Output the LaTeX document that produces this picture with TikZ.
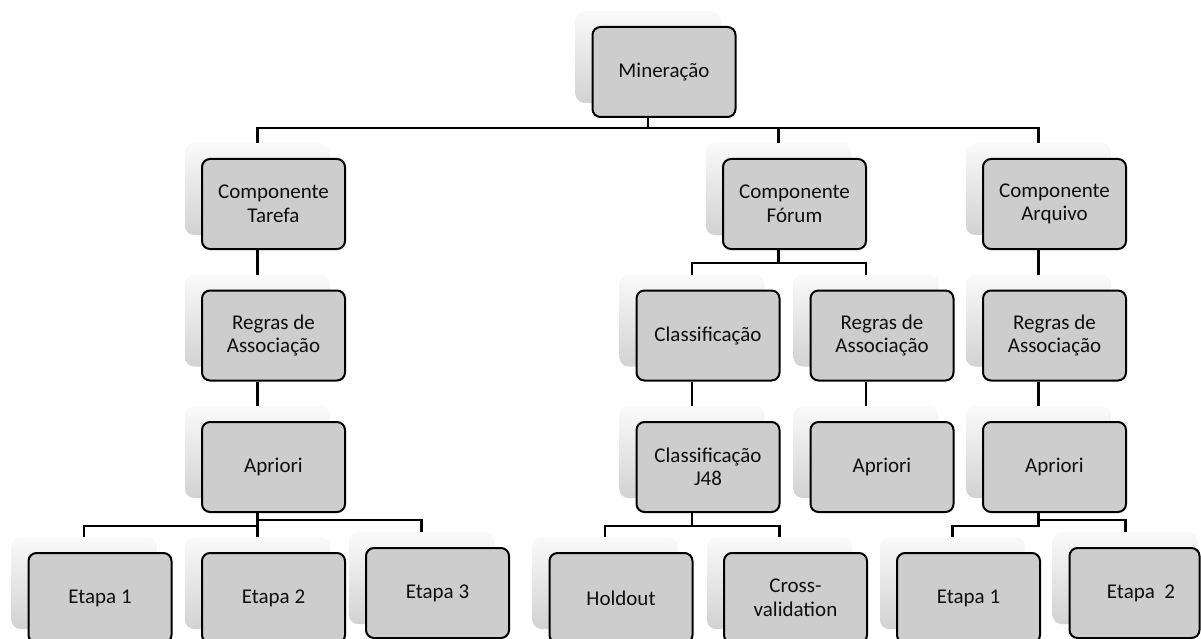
\documentclass[tikz,border=0pt]{standalone}
\usepackage{fontspec}
\setmainfont{Carlito}
\usetikzlibrary{backgrounds}
\definecolor{boxgray}{RGB}{205,205,205}
\definecolor{shtop}{RGB}{250,250,250}
\definecolor{shbot}{RGB}{210,210,210}
\definecolor{txt}{RGB}{15,15,15}
\begin{document}
\begin{tikzpicture}[x=1pt,y=-1pt,
  box/.style={draw=black, line width=2pt, rounded corners=8pt, fill=boxgray,
    minimum width=143pt, minimum height=90pt, align=center, inner sep=0pt,
    text=txt, font=\fontsize{21}{23.5}\selectfont},
  conn/.style={line width=2.2pt, black},
  shadowbox/.style={rounded corners=9pt, top color=shtop, bottom color=shbot, draw=none}]
\useasboundingbox (0,0) rectangle (1201,639);

% level 1
\node[box] (min) at (664,72) {Mineração};
% level 2
\node[box] (tar) at (273.5,204) {Componente\\Tarefa};
\node[box] (for) at (794.5,204) {Componente\\Fórum};
\node[box] (arq) at (1054.5,204) {Componente\\Arquivo};
% level 3
\node[box] (tregras) at (273.5,335.5) {Regras de\\Associação};
\node[box] (fcla) at (708,335.5) {Classificação};
\node[box] (fregras) at (882,335.5) {Regras de\\Associação};
\node[box] (aregras) at (1054.5,335.5) {Regras de\\Associação};
% level 4
\node[box] (tapr) at (273.5,467) {Apriori};
\node[box] (fj48) at (708,467) {Classificação\\J48};
\node[box] (fapr) at (882,467) {Apriori};
\node[box] (aapr) at (1054.5,467) {Apriori};
% level 5
\node[box] (e1) at (100,598) {Etapa 1};
\node[box] (e2) at (273.5,598) {Etapa 2};
\node[box] (e3) at (437.5,593) {Etapa 3};
\node[box] (hold) at (621,598) {Holdout};
\node[box] (cross) at (795.5,598) {Cross-\\validation};
\node[box] (ae1) at (968.5,598) {Etapa 1};
\node[box, minimum width=130pt] (ae2) at (1134.5,593) {\hspace*{13pt}Etapa\ \ 2};

% shadows
\begin{scope}[on background layer]
  \foreach \n in {min,tar,for,arq,tregras,fcla,fregras,aregras,tapr,fj48,fapr,aapr,e1,e2,e3,hold,cross,ae1}{
    \shade[shadowbox] ([shift={(-16pt,15pt)}]\n.south west) rectangle ([shift={(-16pt,15pt)}]\n.north east);
  }
  \shade[shadowbox] ([shift={(-16pt,15pt)}]ae2.south west) rectangle ([shift={(-3pt,15pt)}]ae2.north east);
\end{scope}

% connection points
\foreach \n in {min,tar,for,arq,tregras,fcla,fregras,aregras,tapr,fj48,fapr,aapr,e1,e2,e3,hold,cross,ae1}{
  \coordinate (\n-t) at ([xshift=-16pt,yshift=15pt]\n.north);
  \coordinate (\n-b) at ([xshift=-16pt]\n.south);
}
\coordinate (ae2-t) at ([xshift=-9pt,yshift=15pt]ae2.north);
\coordinate (busA) at (0,128);
\coordinate (busB) at (0,263);
\coordinate (busC) at (0,526);
\coordinate (busD) at (0,520);

% connectors
\draw[conn] (min-b) -- (min-b |- busA);
\draw[conn] (tar-t) |- (arq-t |- busA) -- (arq-t);
\draw[conn] (for-t) -- (for-t |- busA);

\draw[conn] (tar-b) -- (tregras-t);
\draw[conn] (tregras-b) -- (tapr-t);
\draw[conn] (tapr-b) -- (e2-t);
\draw[conn] (tapr-b |- busC) -| (e1-t);
\draw[conn] (tapr-b |- busD) -| (e3-t);

\draw[conn] (for-b) -- (for-b |- busB);
\draw[conn] (fcla-t) |- (fregras-t |- busB) -- (fregras-t);
\draw[conn] (fcla-b) -- (fj48-t);
\draw[conn] (fregras-b) -- (fapr-t);
\draw[conn] (fj48-b) -- (fj48-b |- busC);
\draw[conn] (hold-t) |- (cross-t |- busC) -- (cross-t);

\draw[conn] (arq-b) -- (aregras-t);
\draw[conn] (aregras-b) -- (aapr-t);
\draw[conn] (aapr-b) -- (aapr-b |- busC) -| (ae1-t);
\draw[conn] (aapr-b |- busD) -| (ae2-t);
\end{tikzpicture}
\end{document}
